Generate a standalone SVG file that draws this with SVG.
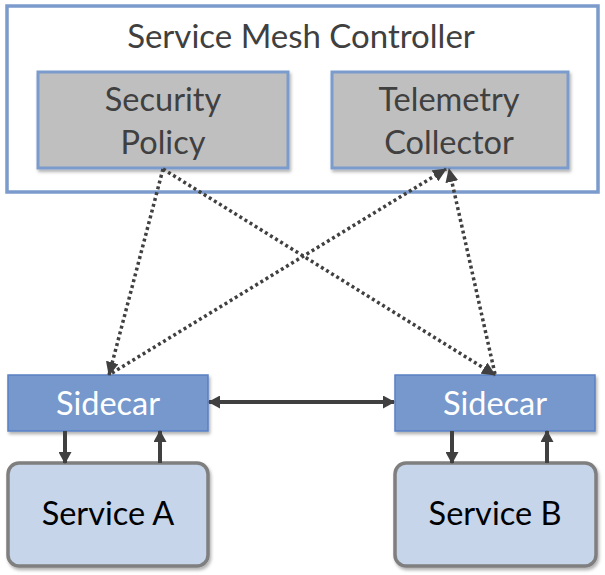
<svg xmlns="http://www.w3.org/2000/svg" width="605" height="575" viewBox="0 0 605 575">
<defs>
<filter id="sh" x="-10%" y="-10%" width="130%" height="130%">
<feDropShadow dx="1.5" dy="2.5" stdDeviation="1.5" flood-color="#000" flood-opacity="0.3"/>
</filter>
<marker id="ah" viewBox="0 0 12 13" refX="11" refY="6.5" markerWidth="12" markerHeight="13" orient="auto-start-reverse" markerUnits="userSpaceOnUse">
<path d="M0,0 L12,6.5 L0,13 z" fill="#404040"/>
</marker>
<marker id="dh" viewBox="0 0 14 13" refX="13" refY="6.5" markerWidth="14" markerHeight="13" orient="auto" markerUnits="userSpaceOnUse">
<path d="M0,0 L14,6.5 L0,13 z" fill="#404040"/>
</marker>
</defs>
<style>
text{font-family:Lato,"Liberation Sans",sans-serif;text-anchor:middle}
.ctl{fill:#fff;stroke:#7b9bcd;stroke-width:3.5}
.grey{fill:#bfbfbf;stroke:#7b9bcd;stroke-width:3}
.gt{fill:#404040;font-size:32.5px}
.tt{fill:#404040;font-size:33px}
.side{fill:#7698cc;stroke:#5a80c4;stroke-width:1.5}
.st{fill:#fff;font-size:32.5px}
.svc{fill:#c6d5ea;stroke:#7f7f7f;stroke-width:3.5}
.svt{fill:#000;font-size:32.5px}
.solid{stroke:#404040;stroke-width:4;fill:none;marker-end:url(#ah)}
.dot{stroke:#404040;stroke-width:3.5;fill:none;stroke-dasharray:3 3;marker-end:url(#dh)}
</style>
<g id="controller">
<rect class="ctl" x="7" y="6" width="591" height="186"/>
<text class="tt" x="301" y="48">Service Mesh Controller</text>
</g>
<g id="security-policy">
<rect class="grey" x="38" y="72" width="250" height="96" filter="url(#sh)"/>
<text class="gt" x="163" y="111">Security</text>
<text class="gt" x="163" y="154">Policy</text>
</g>
<g id="telemetry-collector">
<rect class="grey" x="332" y="72" width="236" height="96" filter="url(#sh)"/>
<text class="gt" x="449" y="111">Telemetry</text>
<text class="gt" x="449" y="154">Collector</text>
</g>
<g id="sidecar-a">
<rect class="side" x="8" y="375" width="200" height="56" filter="url(#sh)"/>
<text class="st" x="108" y="415">Sidecar</text>
</g>
<g id="sidecar-b">
<rect class="side" x="395" y="375" width="200" height="56" filter="url(#sh)"/>
<text class="st" x="495" y="415">Sidecar</text>
</g>
<g id="service-a">
<rect class="svc" x="8" y="463" width="200" height="103" rx="11" filter="url(#sh)"/>
<text class="svt" x="108" y="525">Service A</text>
</g>
<g id="service-b">
<rect class="svc" x="395" y="463" width="201" height="103" rx="11" filter="url(#sh)"/>
<text class="svt" x="495" y="525">Service B</text>
</g>
<g id="connectors">
<line class="solid" x1="65" y1="431" x2="65" y2="463"/>
<line class="solid" x1="160" y1="463" x2="160" y2="431"/>
<line class="solid" x1="452" y1="431" x2="452" y2="463"/>
<line class="solid" x1="547" y1="463" x2="547" y2="431"/>
<line class="solid" x1="209" y1="402" x2="394" y2="402" marker-start="url(#ah)"/>
<line class="dot" x1="163" y1="169" x2="109" y2="375"/>
<line class="dot" x1="163" y1="169" x2="495" y2="375"/>
<line class="dot" x1="112" y1="373" x2="446" y2="169"/>
<line class="dot" x1="495" y1="374" x2="449" y2="169"/>
</g>
</svg>
